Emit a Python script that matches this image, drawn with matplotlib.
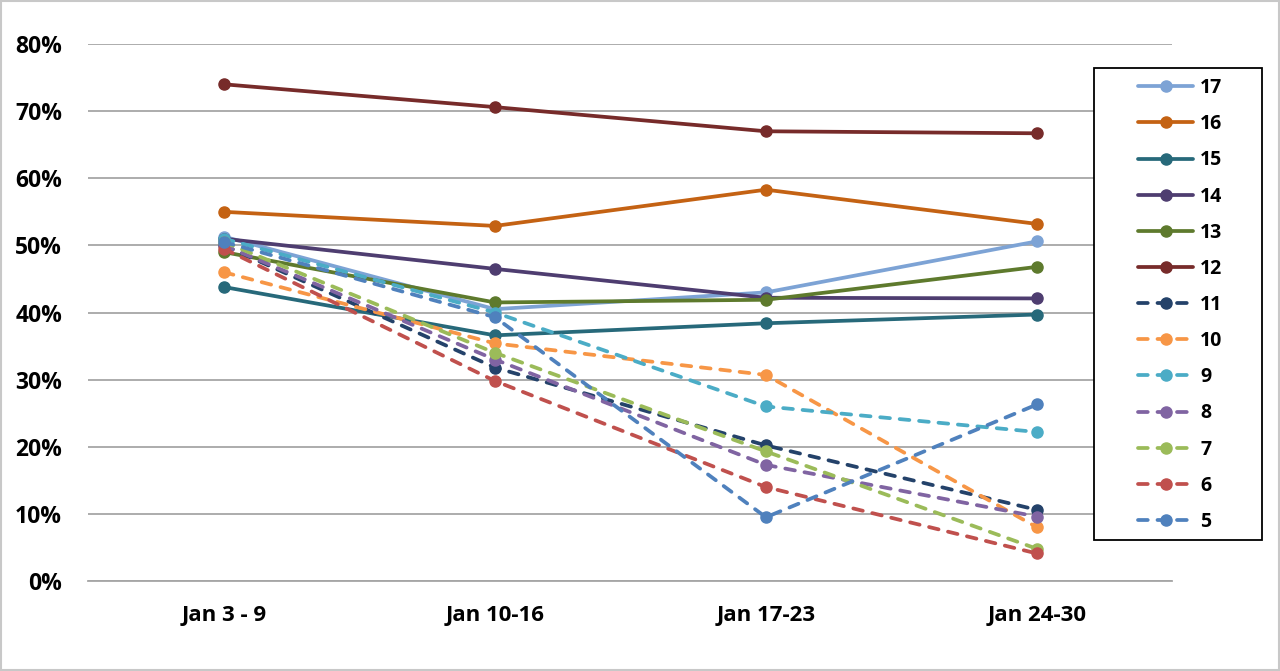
import matplotlib.pyplot as plt
from matplotlib.patches import Rectangle
from matplotlib.ticker import FuncFormatter

weeks = ['Jan 3 - 9', 'Jan 10-16', 'Jan 17-23', 'Jan 24-30']

s17 = [51.3, 40.5, 43.0, 50.6]
s16 = [55.0, 52.9, 58.3, 53.2]
s15 = [43.8, 36.6, 38.4, 39.7]
s14 = [51.0, 46.5, 42.2, 42.1]
s13 = [49.0, 41.5, 41.9, 46.8]
s12 = [74.0, 70.6, 67.0, 66.7]
s11 = [50.0, 31.8, 20.2, 10.6]
s10 = [46.0, 35.4, 30.7, 8.0]
s9 = [51.0, 40.0, 26.0, 22.2]
s8 = [50.0, 33.0, 17.3, 9.6]
s7 = [50.5, 34.0, 19.3, 4.8]
s6 = [49.5, 29.8, 14.0, 4.1]
s5 = [50.5, 39.3, 9.5, 26.3]

labels = ['17', '16', '15', '14', '13', '12', '11', '10', '9', '8', '7', '6', '5']
series = [s17, s16, s15, s14, s13, s12, s11, s10, s9, s8, s7, s6, s5]
colors = ['#7DA3D5', '#C46213', '#27697A', '#4E3D70', '#5E7A2D', '#772B2A',
          '#24426A', '#F79646', '#4BACC6', '#8064A2', '#9BBB59', '#C0504D', '#4F81BD']
dashed = [False] * 6 + [True] * 7

plt.rcParams['font.family'] = ['Open Sans', 'DejaVu Sans']

fig = plt.figure(figsize=(12.8, 6.71), dpi=100)
ax = fig.add_axes([0.0691, 0.1341, 0.8469, 0.8003])

x = range(len(weeks))
for lab, vals, c, d in zip(labels, series, colors, dashed):
    ax.plot(x, [v / 100 for v in vals], color=c, lw=2.7, marker='o', markersize=8,
            linestyle=(0, (2.6, 2.6)) if d else '-', label=lab,
            dash_capstyle='round', solid_capstyle='round')

ax.set_xlim(-0.5, 3.5)
ax.set_ylim(0, 0.8)
ax.set_yticks([i / 10 for i in range(9)])
ax.yaxis.set_major_formatter(FuncFormatter(lambda v, p: f'{v*100:.0f}%'))
ax.set_xticks(list(x))
ax.set_xticklabels(weeks)
ax.tick_params(length=0)
ax.tick_params(axis='y', labelsize=16.5, pad=19)
ax.tick_params(axis='x', labelsize=16, pad=17)
for t in ax.get_xticklabels() + ax.get_yticklabels():
    t.set_fontweight('bold')
ax.grid(axis='y', color='#A6A6A6', lw=1.3)
ax.set_axisbelow(True)
for s in ['top', 'right', 'left']:
    ax.spines[s].set_visible(False)
ax.spines['bottom'].set_color('#A6A6A6')
ax.spines['bottom'].set_linewidth(1.3)

# legend box drawn separately so the entries can sit where they do in the original
W, H = 1280, 671
fig.patches.append(Rectangle((1094 / W, 1 - 540 / H), 168 / W, 472 / H,
                             transform=fig.transFigure, facecolor='white',
                             edgecolor='black', lw=1.3, zorder=5))
leg = fig.legend(loc='center left', bbox_to_anchor=(1138 / W, 1 - 305 / H),
                 frameon=False, prop={'size': 14, 'weight': 'bold'},
                 handlelength=2.85, labelspacing=0.83, borderpad=0,
                 borderaxespad=0, handletextpad=0.35)
leg.set_zorder(6)

fig.patches.append(Rectangle((0.001, 0.001), 0.998, 0.998, transform=fig.transFigure,
                             fill=False, edgecolor='#C8C8C8', lw=1.5))

fig.savefig('out.png', dpi=100)
